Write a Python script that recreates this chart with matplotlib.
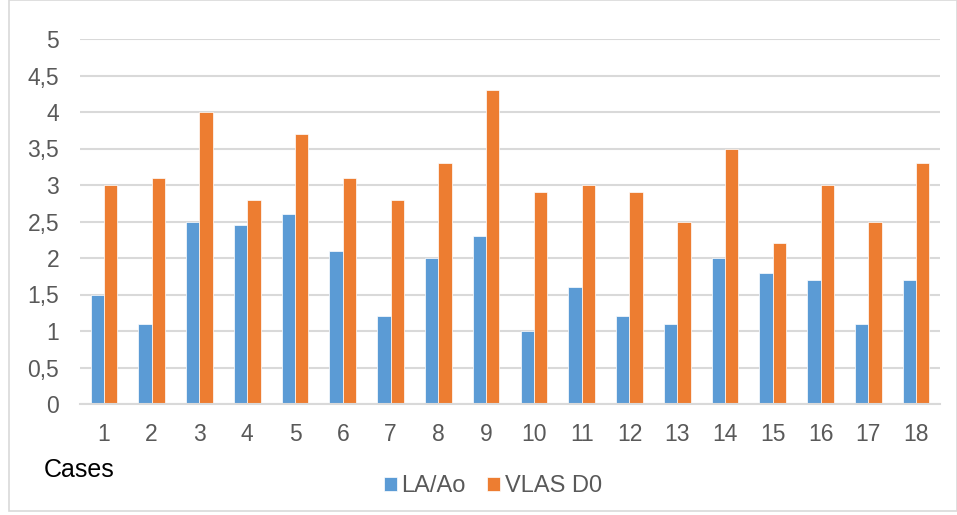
import matplotlib
matplotlib.use("Agg")
import matplotlib.pyplot as plt
import numpy as np
from matplotlib.patches import Rectangle

cases = [str(i) for i in range(1, 19)]
la_ao = [1.5, 1.1, 2.5, 2.45, 2.6, 2.1, 1.2, 2.0, 2.3, 1.0, 1.6, 1.2, 1.1, 2.0, 1.8, 1.7, 1.1, 1.7]
vlas_d0 = [3.0, 3.1, 4.0, 2.8, 3.7, 3.1, 2.8, 3.3, 4.3, 2.9, 3.0, 2.9, 2.5, 3.5, 2.2, 3.0, 2.5, 3.3]
yticks = [0, 0.5, 1, 1.5, 2, 2.5, 3, 3.5, 4, 4.5, 5]
ytick_labels = ["0", "0,5", "1", "1,5", "2", "2,5", "3", "3,5", "4", "4,5", "5"]

plt.rcParams['font.family'] = ['Liberation Sans', 'DejaVu Sans']
W, H = 957, 515
fig = plt.figure(figsize=(W/100, H/100), dpi=100)
ax = fig.add_axes([80/W, 1-404/H, (940-80)/W, (404-39)/H])

x = np.arange(len(cases))
bw = 0.28
blue = '#5B9BD5'
orange = '#ED7D31'
ax.bar(x - bw/2, la_ao, bw, color=blue, label='LA/Ao', edgecolor='white', linewidth=0.5)
ax.bar(x + bw/2, vlas_d0, bw, color=orange, label='VLAS D0', edgecolor='white', linewidth=0.5)

ax.set_xlim(-0.5, len(cases) - 0.5)
ax.set_ylim(0, 5)
ax.set_yticks(yticks)
ax.set_yticklabels(ytick_labels)
ax.set_xticks(x)
ax.set_xticklabels(cases)
ax.yaxis.grid(True, color='#D9D9D9', linewidth=1.5)
ax.set_axisbelow(True)
for s in ['top', 'right', 'left']:
    ax.spines[s].set_visible(False)
ax.spines['bottom'].set_color('#D9D9D9')
ax.spines['bottom'].set_linewidth(1.5)
ax.tick_params(axis='both', length=0, labelsize=16.5, colors='#595959')
ax.tick_params(axis='x', pad=14)
ax.tick_params(axis='y', pad=15)

fig.text(44/W, 1-470/H, 'Cases', fontsize=18, color='black', va='center', ha='left')

leg = fig.legend(loc='center', bbox_to_anchor=(493/W, 1-486/H), ncol=2, frameon=False,
                 fontsize=17, handlelength=0.55, handleheight=0.55, handletextpad=0.2,
                 columnspacing=0.9)
for t in leg.get_texts():
    t.set_color('#595959')

fig.patches.append(Rectangle((9/W, 1-511/H), (957-9)/W, (511-0)/H, transform=fig.transFigure,
                             fill=False, edgecolor='#D9D9D9', linewidth=1.2))

fig.savefig('out.png', dpi=100)
